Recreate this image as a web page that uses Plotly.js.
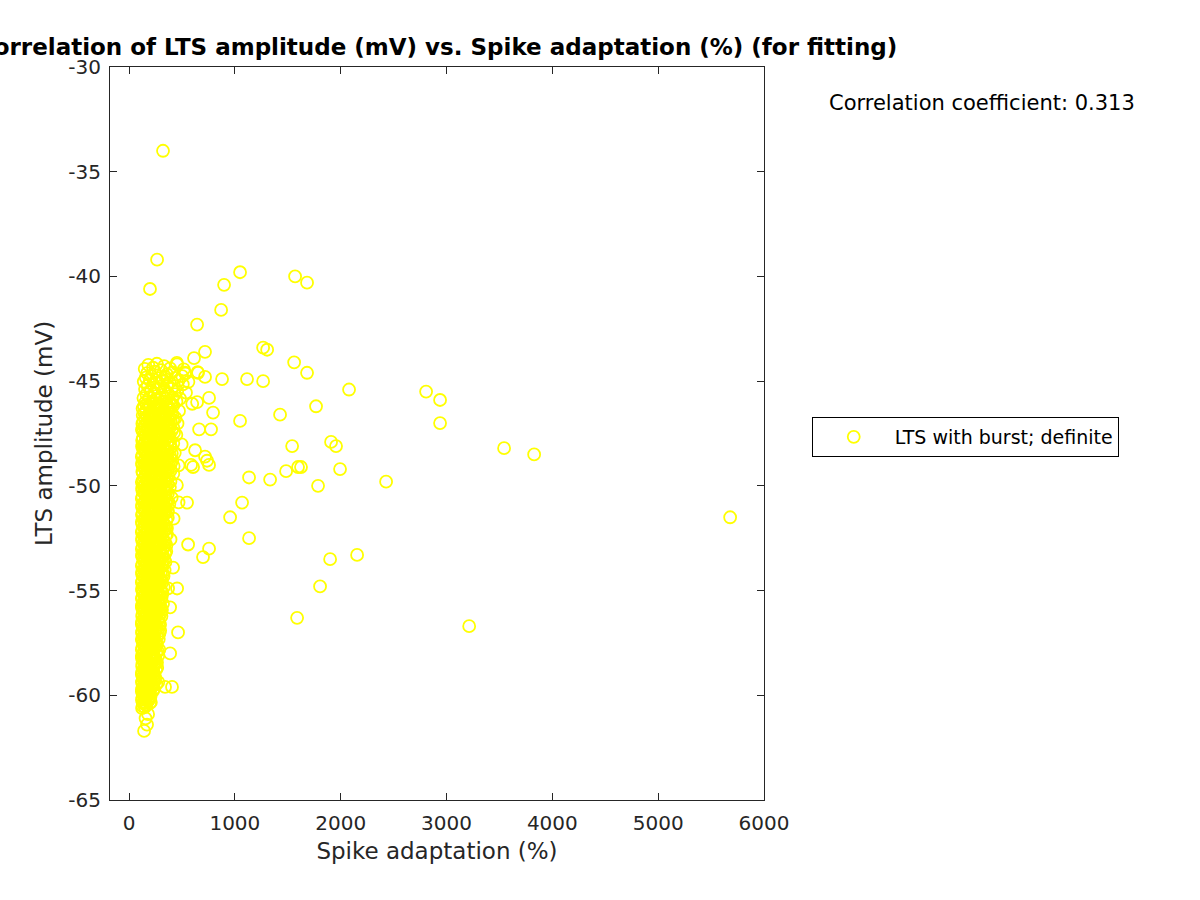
<!DOCTYPE html>
<html>
<head>
<meta charset="utf-8">
<script src="https://cdn.plot.ly/plotly-3.0.1.min.js"></script>
<style>
  body { margin: 0; background: #fff; }
  #chart { width: 1200px; height: 900px; }
</style>
</head>
<body>
<div id="chart"></div>
<script>
// spike adaptation (%) vs LTS amplitude (mV)

// points away from the main cloud
const sparseX = [
  321, 265, 198, 1049, 1569, 1682, 898, 870, 643, 1267, 1305, 718, 614, 1560, 1682,
  1267, 1115, 879, 2079, 2807, 2939, 1767, 756, 794, 1427, 1049, 2939, 662, 775,
  1909, 1956, 1541, 3544, 3828, 718, 737, 756, 1597, 1625, 1484, 1994, 1134, 1333,
  2429, 1786, 1068, 955, 1134, 756, 699, 2155, 1900, 1805, 1588, 3214, 5680, 558,
  548, 605, 624, 586, 643, 718, 652, 529, 454, 416, 454, 369, 388, 463, 388, 406, 340
];
const sparseY = [
  -34.0, -39.2, -40.6, -39.8, -40.0, -40.3, -40.4, -41.6, -42.3, -43.4, -43.5, -43.6, -43.9, -44.1, -44.6,
  -45.0, -44.9, -44.9, -45.4, -45.5, -45.9, -46.2, -45.8, -46.5, -46.6, -46.9, -47.0, -47.3, -47.3,
  -47.9, -48.1, -48.1, -48.2, -48.5, -48.6, -48.8, -49.0, -49.1, -49.1, -49.3, -49.2, -49.6, -49.7,
  -49.8, -50.0, -50.8, -51.5, -52.5, -53.0, -53.4, -53.3, -53.5, -54.8, -56.3, -56.7, -51.5, -52.8,
  -50.8, -49.1, -48.3, -49.0, -46.0, -44.8, -44.6, -44.6, -44.2, -53.9, -54.9, -54.9, -55.8, -57.0, -58.0, -59.6, -59.6
];

// the dense cloud at low adaptation, one line per band
const denseX = [
  182, 263, 331, 452,
  148, 227, 302, 388, 517,
  171, 243, 358, 407, 533, 648,
  158, 212, 288, 342, 438, 502,
  139, 197, 262, 318, 383, 468, 561,
  176, 229, 303, 358, 427, 508,
  151, 208, 277, 338, 402, 456,
  164, 241, 312, 368, 433, 538,
  136, 193, 257, 296, 352, 413, 482,
  154, 221, 279, 331, 392, 448, 597,
  141, 186, 246, 303, 367, 418,
  161, 209, 272, 322, 378, 472,
  129, 191, 236, 288, 347, 411,
  152, 204, 262, 313, 372, 438,
  126, 177, 228, 287, 333, 397, 458,
  144, 202, 248, 306, 362, 418,
  131, 178, 242, 293, 351, 404,
  156, 211, 263, 322, 378, 447,
  124, 176, 227, 278, 337, 388,
  146, 194, 252, 303, 361, 418, 497,
  131, 182, 233, 291, 338, 396,
  149, 206, 258, 317, 368, 432,
  121, 171, 218, 277, 328, 386,
  141, 188, 247, 298, 352, 408,
  126, 174, 232, 283, 342, 393, 468,
  151, 199, 257, 308, 366,
  129, 181, 236, 288, 346, 418,
  144, 196, 251, 303, 358,
  121, 172, 224, 281, 333, 391,
  139, 191, 243, 302, 354, 452,
  126, 176, 228, 287, 338,
  146, 198, 256, 308, 367,
  121, 169, 222, 273, 332, 403,
  141, 192, 243, 298, 351, 468,
  124, 176, 231, 283, 336,
  149, 202, 253, 312, 368,
  122, 171, 218, 276, 327,
  139, 188, 246, 298, 353, 421,
  126, 177, 228, 281, 333,
  144, 196, 248, 306, 358,
  121, 169, 221, 272, 323,
  141, 189, 242, 293, 347,
  124, 176, 226, 278, 331, 392,
  146, 194, 251, 302, 353,
  121, 166, 213, 267, 318,
  139, 186, 237, 288, 342,
  126, 171, 218, 272, 323,
  143, 189, 242, 291, 344,
  121, 166, 216, 263, 317,
  141, 184, 237, 283, 336,
  124, 171, 219, 272, 318,
  146, 191, 238, 292,
  121, 164, 212, 258, 312,
  139, 186, 231, 278, 328,
  126, 169, 216, 263, 307,
  144, 191, 233, 286,
  121, 161, 206, 252, 298,
  136, 179, 226, 273, 321,
  122, 166, 208, 257, 302,
  139, 184, 231, 278,
  124, 166, 211, 253, 306,
  141, 181, 224, 271,
  121, 159, 206, 248, 293,
  136, 176, 221, 264,
  122, 161, 199, 246, 288,
  139, 181, 224, 268,
  126, 164, 206, 251,
  141, 179, 221, 263,
  121, 161, 201, 243, 286,
  136, 174, 216, 258,
  122, 159, 198, 241,
  139, 181, 219, 264,
  124, 161, 201, 238,
  141, 176, 214, 256,
  121, 159, 196, 236,
  136, 171, 209, 248,
  122, 156, 194, 231, 276,
  134, 169, 211,
  121, 154, 191, 229,
  136, 171, 204,
  122, 151, 186,
  131, 164, 199,
  123, 149,
  180, 170, 142, 156
];
const denseY = [
  -44.22, -44.17, -44.28, -44.13,
  -44.41, -44.36, -44.47, -44.39, -44.44,
  -44.62, -44.55, -44.68, -44.58, -44.64, -44.57,
  -44.83, -44.77, -44.86, -44.79, -44.84, -44.76,
  -45.02, -44.96, -45.07, -44.99, -45.05, -44.97, -45.03,
  -45.23, -45.17, -45.26, -45.18, -45.24, -45.15,
  -45.38, -45.44, -45.36, -45.43, -45.37, -45.46,
  -45.63, -45.57, -45.66, -45.58, -45.62, -45.55,
  -45.81, -45.77, -45.86, -45.78, -45.84, -45.79, -45.83,
  -46.02, -45.96, -46.06, -45.98, -46.04, -45.97, -46.08,
  -46.21, -46.17, -46.26, -46.18, -46.23, -46.16,
  -46.38, -46.44, -46.36, -46.43, -46.37, -46.42,
  -46.62, -46.57, -46.66, -46.58, -46.64, -46.59,
  -46.81, -46.77, -46.84, -46.78, -46.83, -46.76,
  -47.03, -46.97, -47.06, -46.98, -47.04, -46.96, -47.02,
  -47.18, -47.23, -47.16, -47.24, -47.17, -47.22,
  -47.42, -47.37, -47.45, -47.38, -47.43, -47.36,
  -47.61, -47.57, -47.64, -47.58, -47.63, -47.56,
  -47.82, -47.77, -47.84, -47.78, -47.83, -47.79,
  -48.01, -47.97, -48.04, -47.98, -48.03, -47.96, -48.02,
  -48.22, -48.17, -48.24, -48.18, -48.23, -48.16,
  -48.38, -48.43, -48.36, -48.44, -48.37, -48.42,
  -48.61, -48.57, -48.64, -48.58, -48.63, -48.56,
  -48.82, -48.77, -48.84, -48.78, -48.83, -48.79,
  -49.01, -48.97, -49.04, -48.98, -49.03, -48.96, -49.02,
  -49.22, -49.17, -49.24, -49.18, -49.23,
  -49.38, -49.43, -49.36, -49.44, -49.37, -49.42,
  -49.61, -49.57, -49.64, -49.58, -49.63,
  -49.82, -49.77, -49.84, -49.78, -49.83, -49.79,
  -50.01, -49.97, -50.04, -49.98, -50.03, -49.96,
  -50.22, -50.17, -50.24, -50.18, -50.23,
  -50.38, -50.43, -50.36, -50.44, -50.37,
  -50.61, -50.57, -50.64, -50.58, -50.63, -50.56,
  -50.82, -50.77, -50.84, -50.78, -50.83, -50.79,
  -51.01, -50.97, -51.04, -50.98, -51.03,
  -51.22, -51.17, -51.24, -51.18, -51.23,
  -51.38, -51.43, -51.36, -51.44, -51.37,
  -51.61, -51.57, -51.64, -51.58, -51.63, -51.56,
  -51.82, -51.77, -51.84, -51.78, -51.83,
  -52.01, -51.97, -52.04, -51.98, -52.03,
  -52.22, -52.17, -52.24, -52.18, -52.23,
  -52.38, -52.43, -52.36, -52.44, -52.37,
  -52.61, -52.57, -52.64, -52.58, -52.63, -52.56,
  -52.82, -52.77, -52.84, -52.78, -52.83,
  -53.01, -52.97, -53.04, -52.98, -53.03,
  -53.22, -53.17, -53.24, -53.18, -53.23,
  -53.38, -53.43, -53.36, -53.44, -53.37,
  -53.61, -53.57, -53.64, -53.58, -53.63,
  -53.82, -53.77, -53.84, -53.78, -53.83,
  -54.01, -53.97, -54.04, -53.98, -54.03,
  -54.22, -54.17, -54.24, -54.18, -54.23,
  -54.38, -54.43, -54.36, -54.44,
  -54.61, -54.57, -54.64, -54.58, -54.63,
  -54.82, -54.77, -54.84, -54.78, -54.83,
  -55.01, -54.97, -55.04, -54.98, -55.03,
  -55.22, -55.17, -55.24, -55.18,
  -55.38, -55.43, -55.36, -55.44, -55.37,
  -55.61, -55.57, -55.64, -55.58, -55.63,
  -55.82, -55.77, -55.84, -55.78, -55.83,
  -56.01, -55.97, -56.04, -55.98,
  -56.22, -56.17, -56.24, -56.18, -56.23,
  -56.38, -56.43, -56.36, -56.44,
  -56.61, -56.57, -56.64, -56.58, -56.63,
  -56.82, -56.77, -56.84, -56.78,
  -57.01, -56.97, -57.04, -56.98, -57.03,
  -57.22, -57.17, -57.24, -57.18,
  -57.38, -57.43, -57.36, -57.44,
  -57.61, -57.57, -57.64, -57.58,
  -57.82, -57.77, -57.84, -57.78, -57.83,
  -58.01, -57.97, -58.04, -57.98,
  -58.22, -58.17, -58.24, -58.18,
  -58.38, -58.43, -58.36, -58.44,
  -58.61, -58.57, -58.64, -58.58,
  -58.82, -58.77, -58.84, -58.78,
  -59.01, -58.97, -59.04, -58.98,
  -59.22, -59.17, -59.24, -59.18,
  -59.38, -59.43, -59.36, -59.44, -59.37,
  -59.61, -59.57, -59.64,
  -59.82, -59.77, -59.84, -59.78,
  -60.01, -59.97, -60.04,
  -60.22, -60.17, -60.24,
  -60.38, -60.43, -60.36,
  -60.61, -60.57,
  -60.9, -61.4, -61.7, -61.1
];

// more points inside the cloud, sitting between the bands above
const fillX = [
  167, 232, 291, 356, 405,
  128, 197, 258, 314, 389,
  146, 221, 283, 336, 398,
  171, 219, 276, 331, 384,
  136, 188, 245, 297, 352, 417,
  153, 209, 264, 318, 377,
  122, 172, 228, 274, 326, 381,
  146, 197, 254, 309, 363, 425,
  131, 186, 239, 296, 352,
  151, 203, 262, 314, 366,
  123, 168, 221, 276, 329, 386,
  141, 196, 246, 302, 357,
  128, 181, 233, 288, 346, 404,
  148, 199, 259, 314, 367,
  122, 166, 218, 272, 323, 379,
  138, 188, 243, 297, 352, 421,
  126, 173, 226, 281, 334, 393,
  156, 209, 262, 318, 372,
  131, 184, 238, 291, 344,
  149, 199, 256, 312, 367,
  124, 168, 219, 271, 326, 386,
  139, 187, 241, 296, 351,
  127, 176, 232, 284, 339,
  151, 204, 257, 311, 362,
  122, 166, 218, 269, 322, 381,
  138, 188, 241, 296, 351,
  129, 179, 233, 286, 342,
  152, 203, 258, 311, 366,
  121, 164, 216, 266, 318,
  141, 191, 239, 294, 346,
  127, 178, 232, 283, 336,
  152, 198, 253, 306, 358,
  123, 165, 214, 263, 318,
  138, 186, 236, 289, 341,
  128, 172, 224, 278, 331,
  149, 196, 248, 298, 352,
  122, 162, 208, 256, 309,
  136, 181, 229, 281, 333,
  127, 174, 221, 268, 318,
  148, 194, 246, 296,
  122, 161, 208, 256, 302,
  135, 181, 228, 279, 326,
  128, 172, 221, 266, 306,
  147, 193, 241, 289,
  122, 161, 206, 251, 296,
  134, 178, 226, 272, 316,
  127, 169, 213, 262, 308,
  146, 192, 238, 283,
  121, 158, 202, 246, 289,
  133, 176, 221, 267, 311,
  127, 168, 214, 258, 296,
  146, 189, 234, 281,
  122, 158, 198, 241, 283,
  131, 171, 213, 256,
  126, 162, 204, 248, 294,
  144, 184, 231, 276,
  121, 157, 197, 238, 281,
  133, 171, 213, 256,
  126, 164, 206, 248,
  143, 183, 226, 269,
  121, 156, 194, 233, 276,
  131, 168, 208, 251,
  126, 163, 206, 246,
  143, 181, 223, 266,
  122, 156, 191, 231,
  131, 166, 204, 244,
  126, 162, 199, 238,
  142, 178, 218, 258,
  122, 156, 193, 234,
  131, 163, 198,
  126, 158, 192,
  139, 172, 206,
  128, 161
];
const fillY = [
  -46.12, -46.08, -46.14, -46.07, -46.11,
  -46.31, -46.27, -46.33, -46.28, -46.32,
  -46.52, -46.47, -46.53, -46.48, -46.51,
  -46.71, -46.67, -46.73, -46.68, -46.72,
  -46.92, -46.87, -46.93, -46.88, -46.91, -46.86,
  -47.11, -47.07, -47.13, -47.08, -47.12,
  -47.32, -47.27, -47.33, -47.28, -47.31, -47.26,
  -47.51, -47.47, -47.53, -47.48, -47.52, -47.46,
  -47.72, -47.67, -47.73, -47.68, -47.71,
  -47.91, -47.87, -47.93, -47.88, -47.92,
  -48.12, -48.07, -48.13, -48.08, -48.11, -48.06,
  -48.31, -48.27, -48.33, -48.28, -48.32,
  -48.52, -48.47, -48.53, -48.48, -48.51, -48.46,
  -48.71, -48.67, -48.73, -48.68, -48.72,
  -48.92, -48.87, -48.93, -48.88, -48.91, -48.86,
  -49.11, -49.07, -49.13, -49.08, -49.12, -49.06,
  -49.32, -49.27, -49.33, -49.28, -49.31, -49.26,
  -49.51, -49.47, -49.53, -49.48, -49.52,
  -49.72, -49.67, -49.73, -49.68, -49.71,
  -49.91, -49.87, -49.93, -49.88, -49.92,
  -50.12, -50.07, -50.13, -50.08, -50.11, -50.06,
  -50.31, -50.27, -50.33, -50.28, -50.32,
  -50.52, -50.47, -50.53, -50.48, -50.51,
  -50.71, -50.67, -50.73, -50.68, -50.72,
  -50.92, -50.87, -50.93, -50.88, -50.91, -50.86,
  -51.11, -51.07, -51.13, -51.08, -51.12,
  -51.32, -51.27, -51.33, -51.28, -51.31,
  -51.51, -51.47, -51.53, -51.48, -51.52,
  -51.72, -51.67, -51.73, -51.68, -51.71,
  -51.91, -51.87, -51.93, -51.88, -51.92,
  -52.12, -52.07, -52.13, -52.08, -52.11,
  -52.31, -52.27, -52.33, -52.28, -52.32,
  -52.52, -52.47, -52.53, -52.48, -52.51,
  -52.71, -52.67, -52.73, -52.68, -52.72,
  -52.92, -52.87, -52.93, -52.88, -52.91,
  -53.11, -53.07, -53.13, -53.08, -53.12,
  -53.32, -53.27, -53.33, -53.28, -53.31,
  -53.51, -53.47, -53.53, -53.48, -53.52,
  -53.72, -53.67, -53.73, -53.68, -53.71,
  -53.91, -53.87, -53.93, -53.88,
  -54.12, -54.07, -54.13, -54.08, -54.11,
  -54.31, -54.27, -54.33, -54.28, -54.32,
  -54.52, -54.47, -54.53, -54.48, -54.51,
  -54.71, -54.67, -54.73, -54.68,
  -54.92, -54.87, -54.93, -54.88, -54.91,
  -55.11, -55.07, -55.13, -55.08, -55.12,
  -55.32, -55.27, -55.33, -55.28, -55.31,
  -55.51, -55.47, -55.53, -55.48,
  -55.72, -55.67, -55.73, -55.68, -55.71,
  -55.91, -55.87, -55.93, -55.88, -55.92,
  -56.12, -56.07, -56.13, -56.08, -56.11,
  -56.31, -56.27, -56.33, -56.28,
  -56.52, -56.47, -56.53, -56.48, -56.51,
  -56.71, -56.67, -56.73, -56.68,
  -56.92, -56.87, -56.93, -56.88, -56.91,
  -57.11, -57.07, -57.13, -57.08,
  -57.32, -57.27, -57.33, -57.28, -57.31,
  -57.51, -57.47, -57.53, -57.48,
  -57.72, -57.67, -57.73, -57.68,
  -57.91, -57.87, -57.93, -57.88,
  -58.12, -58.07, -58.13, -58.08, -58.11,
  -58.31, -58.27, -58.33, -58.28,
  -58.52, -58.47, -58.53, -58.48,
  -58.71, -58.67, -58.73, -58.68,
  -58.92, -58.87, -58.93, -58.88,
  -59.11, -59.07, -59.13, -59.08,
  -59.32, -59.27, -59.33, -59.28,
  -59.51, -59.47, -59.53, -59.48,
  -59.72, -59.67, -59.73, -59.68,
  -59.91, -59.87, -59.93,
  -60.12, -60.07, -60.13,
  -60.31, -60.27, -60.33,
  -60.52, -60.47
];

const xTicks = [0, 1000, 2000, 3000, 4000, 5000, 6000];
const yTicks = [-65, -60, -55, -50, -45, -40, -35, -30];
const corrText = 'Correlation coefficient: 0.313';

const font = 'DejaVu Sans, sans-serif';
const axisColor = '#262626';

let trace = {
    type: 'scatter',
    mode: 'markers',
    name: 'LTS with burst; definite',
    x: denseX.concat(fillX, sparseX),
    y: denseY.concat(fillY, sparseY),
    marker: {
        symbol: 'circle-open',
        size: 12,
        color: '#ffff00',
        line: { width: 1.8, color: '#ffff00' }
    }
};

let axisBase = {
    showgrid: false,
    zeroline: false,
    showline: true,
    linecolor: axisColor,
    linewidth: 1,
    mirror: 'ticks',
    ticks: 'inside',
    ticklen: 7,
    tickcolor: axisColor,
    tickfont: { family: font, size: 20, color: axisColor }
};

let layout = {
    width: 1200,
    height: 900,
    paper_bgcolor: '#ffffff',
    plot_bgcolor: '#ffffff',
    margin: { l: 110, r: 436, t: 67, b: 100 },
    title: {
        text: '<b>Correlation of LTS amplitude (mV) vs. Spike adaptation (%) (for fitting)</b>',
        font: { family: font, size: 23, color: '#000' },
        x: 0.3642, xanchor: 'center',
        y: 0.948, yanchor: 'middle'
    },
    xaxis: Object.assign({}, axisBase, {
        range: [-180, 6000],
        tickvals: xTicks,
        ticktext: xTicks.map(String),
        ticklabelstandoff: 5,
        title: { text: 'Spike adaptation (%)', font: { family: font, size: 23, color: axisColor }, standoff: 8 }
    }),
    yaxis: Object.assign({}, axisBase, {
        range: [-65, -30],
        tickvals: yTicks,
        ticktext: yTicks.map(String),
        ticklabelstandoff: 4,
        title: { text: 'LTS amplitude (mV)', font: { family: font, size: 23, color: axisColor }, standoff: 9 }
    }),
    showlegend: true,
    legend: {
        x: 1.073, xanchor: 'left',
        y: 0.5225, yanchor: 'top',
        bgcolor: '#ffffff',
        bordercolor: '#000000',
        borderwidth: 1,
        itemwidth: 72,
        font: { family: font, size: 19, color: '#000' }
    },
    annotations: [{
        text: corrText,
        xref: 'paper', yref: 'paper',
        x: 1.333, y: 0.951,
        xanchor: 'center', yanchor: 'middle',
        showarrow: false,
        font: { family: font, size: 21, color: '#000' }
    }]
};

Plotly.newPlot('chart', [trace], layout, { displayModeBar: false });
</script>
</body>
</html>
